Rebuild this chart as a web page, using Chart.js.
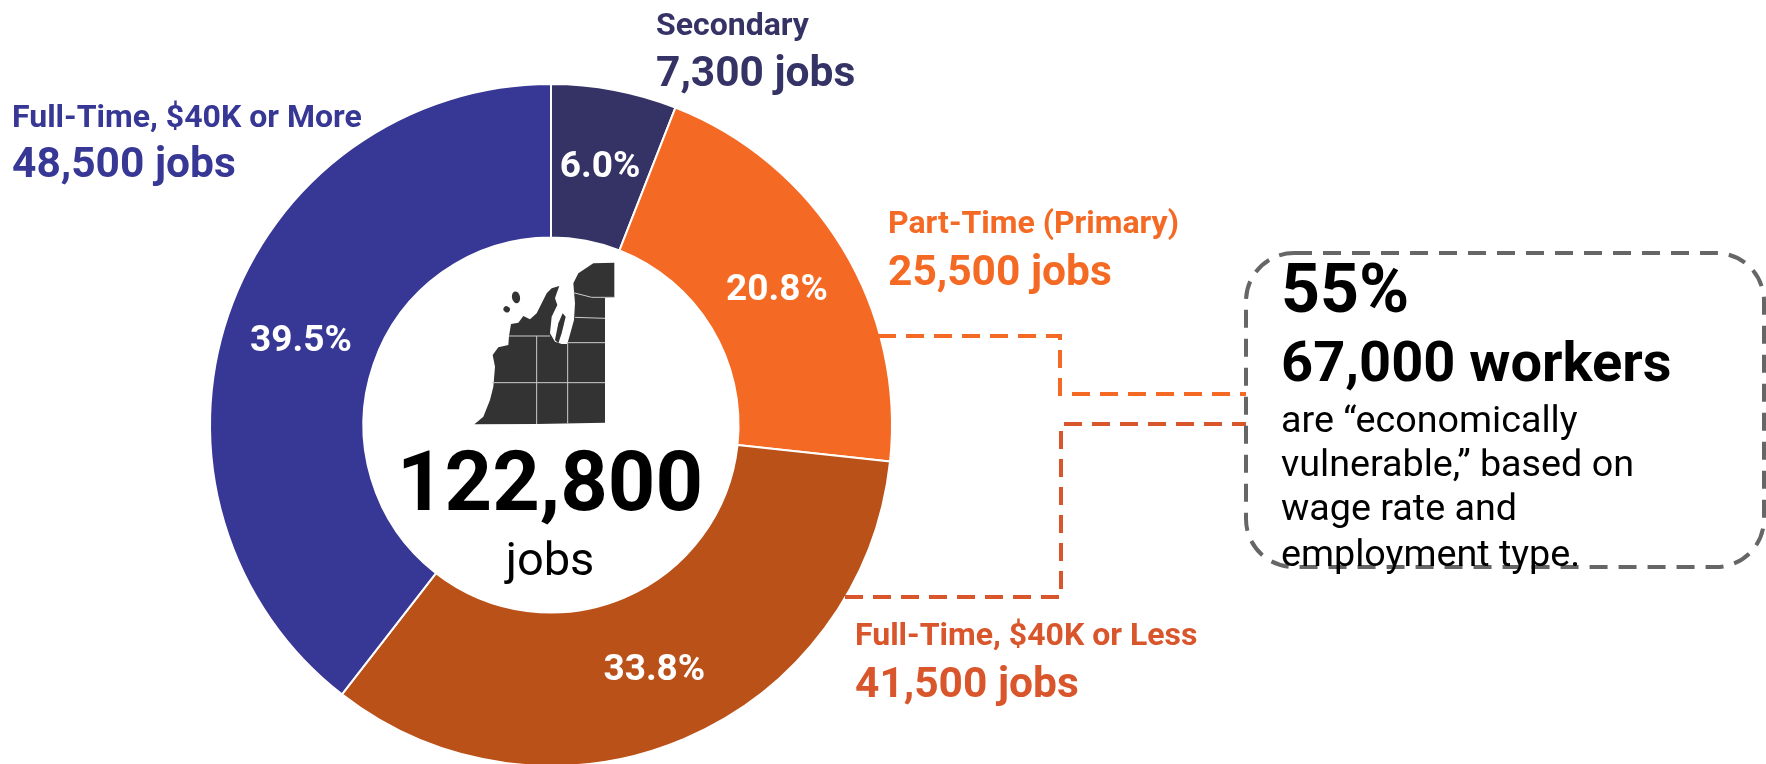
<!DOCTYPE html>
<html><head><meta charset="utf-8">
<style>html,body{margin:0;padding:0;background:#fff;overflow:hidden}#w{position:absolute;left:0;top:0;width:1766px;height:764px;overflow:hidden}canvas{display:block}</style>
<script src="https://cdn.jsdelivr.net/npm/chart.js@4"></script>
</head><body><div id="w"><canvas id="c" width="1766" height="800"></canvas></div>
<script>
const categories = ["Secondary","Part-Time (Primary)","Full-Time, $40K or Less","Full-Time, $40K or More"];
const jobs = [7300,25500,41500,48500];
const shares = ["6.0%","20.8%","33.8%","39.5%"];
const jobLabels = ["7,300 jobs","25,500 jobs","41,500 jobs","48,500 jobs"];
const sliceColors = ["#353366","#F46A25","#BA5119","#373795"];
const labelColors = ["#353366","#F46A25","#D9552B","#373795"];
const labelPos = [[656,35,86],[888,233,285],[855,645,697],[12,127,177]];
const centerTotal = "122,800", centerUnit = "jobs";
const noteLines = ["55%","67,000 workers","are \u201Ceconomically","vulnerable,\u201D based on","wage rate and","employment type."];
const FONT = "Roboto";

const mapOutline = "M103 583 L130 560 L150 510 L160 470 L165 410 L158 375 L175 352 L205 345 L207 318 L213 282 L235 278 L250 258 L270 268 L290 250 L320 190 L335 175 L358 168 L350 190 L345 205 L352 225 L335 260 L330 310 L345 335 L365 342 L382 342 L402 270 L405 220 L400 160 L415 130 L460 100 L523 98 L523 202 L495 203 L495 578 L290 582 Z";
const mapPen = "M368 250 L377 260 L365 310 L355 340 L345 330 L355 280 Z";
const mapBorders = ["M207 318 L330 318","M290 318 L290 582","M383 340 L383 580","M383 338 L495 338","M155 458 L495 458","M405 262 L495 265","M400 188 L455 202 L523 202"];

function text(ctx,s,x,y,font,color,align){ctx.font=font;ctx.fillStyle=color;ctx.textAlign=align||"left";ctx.textBaseline="alphabetic";ctx.fillText(s,x,y);}
function dash(ctx,pts,color,w,pat){ctx.beginPath();pts.forEach((p,i)=>i?ctx.lineTo(p[0],p[1]):ctx.moveTo(p[0],p[1]));ctx.strokeStyle=color;ctx.lineWidth=w;ctx.setLineDash(pat);ctx.stroke();ctx.setLineDash([]);}

const overlay = {id:"overlay",afterDraw(chart){
  const ctx=chart.ctx;ctx.save();
  const arcs=chart.getDatasetMeta(0).data;
  arcs.forEach((a,i)=>{const p=a.getCenterPoint();text(ctx,shares[i],p.x,p.y+12,"bold 37px "+FONT,"#fff","center");});
  categories.forEach((c,i)=>{const [x,y1,y2]=labelPos[i];
    text(ctx,c,x,y1,"bold 32px "+FONT,labelColors[i]);
    text(ctx,jobLabels[i],x,y2,"bold 42.5px "+FONT,labelColors[i]);});
  text(ctx,centerTotal,550,510,"bold 83px "+FONT,"#000","center");
  text(ctx,centerUnit,550,575,"47px "+FONT,"#000","center");
  // map
  ctx.save();ctx.translate(440,230);ctx.scale(1/3,1/3);
  ctx.fillStyle="#333";ctx.fill(new Path2D(mapOutline));
  ctx.beginPath();ctx.ellipse(228,202,12,18,-0.2,0,7);ctx.fill();
  ctx.beginPath();ctx.ellipse(200,238,10,9,0.5,0,7);ctx.fill();
  ctx.fill(new Path2D(mapPen));
  ctx.strokeStyle="#ccc";ctx.lineWidth=3;mapBorders.forEach(d=>ctx.stroke(new Path2D(d)));
  ctx.restore();
  // connectors
  dash(ctx,[[878,336],[1060,336],[1060,394],[1246,394]],"#F46A25",4,[18,10]);
  dash(ctx,[[845,597],[1061,597],[1061,424],[1246,424]],"#D9552B",4,[18,10]);
  // note box
  ctx.beginPath();ctx.roundRect(1246,253,518,314,48);ctx.strokeStyle="#666";ctx.lineWidth=4;ctx.setLineDash([18,11]);ctx.stroke();ctx.setLineDash([]);
  text(ctx,noteLines[0],1281,312,"bold 68px "+FONT,"#000");
  text(ctx,noteLines[1],1281,381,"bold 56px "+FONT,"#000");
  [432,476,520,566].forEach((y,i)=>text(ctx,noteLines[i+2],1281,y,"37.7px "+FONT,"#000"));
  ctx.restore();
}};

new Chart(document.getElementById("c"),{
  type:"doughnut",
  data:{labels:categories,datasets:[{data:jobs,backgroundColor:sliceColors,borderColor:"#fff",borderWidth:2,hoverOffset:0}]},
  options:{responsive:false,animation:false,cutout:"55%",rotation:0,
    layout:{padding:{left:209,right:873,top:83,bottom:33}},
    plugins:{legend:{display:false},tooltip:{enabled:false}}},
  plugins:[overlay]
});
</script></body></html>
